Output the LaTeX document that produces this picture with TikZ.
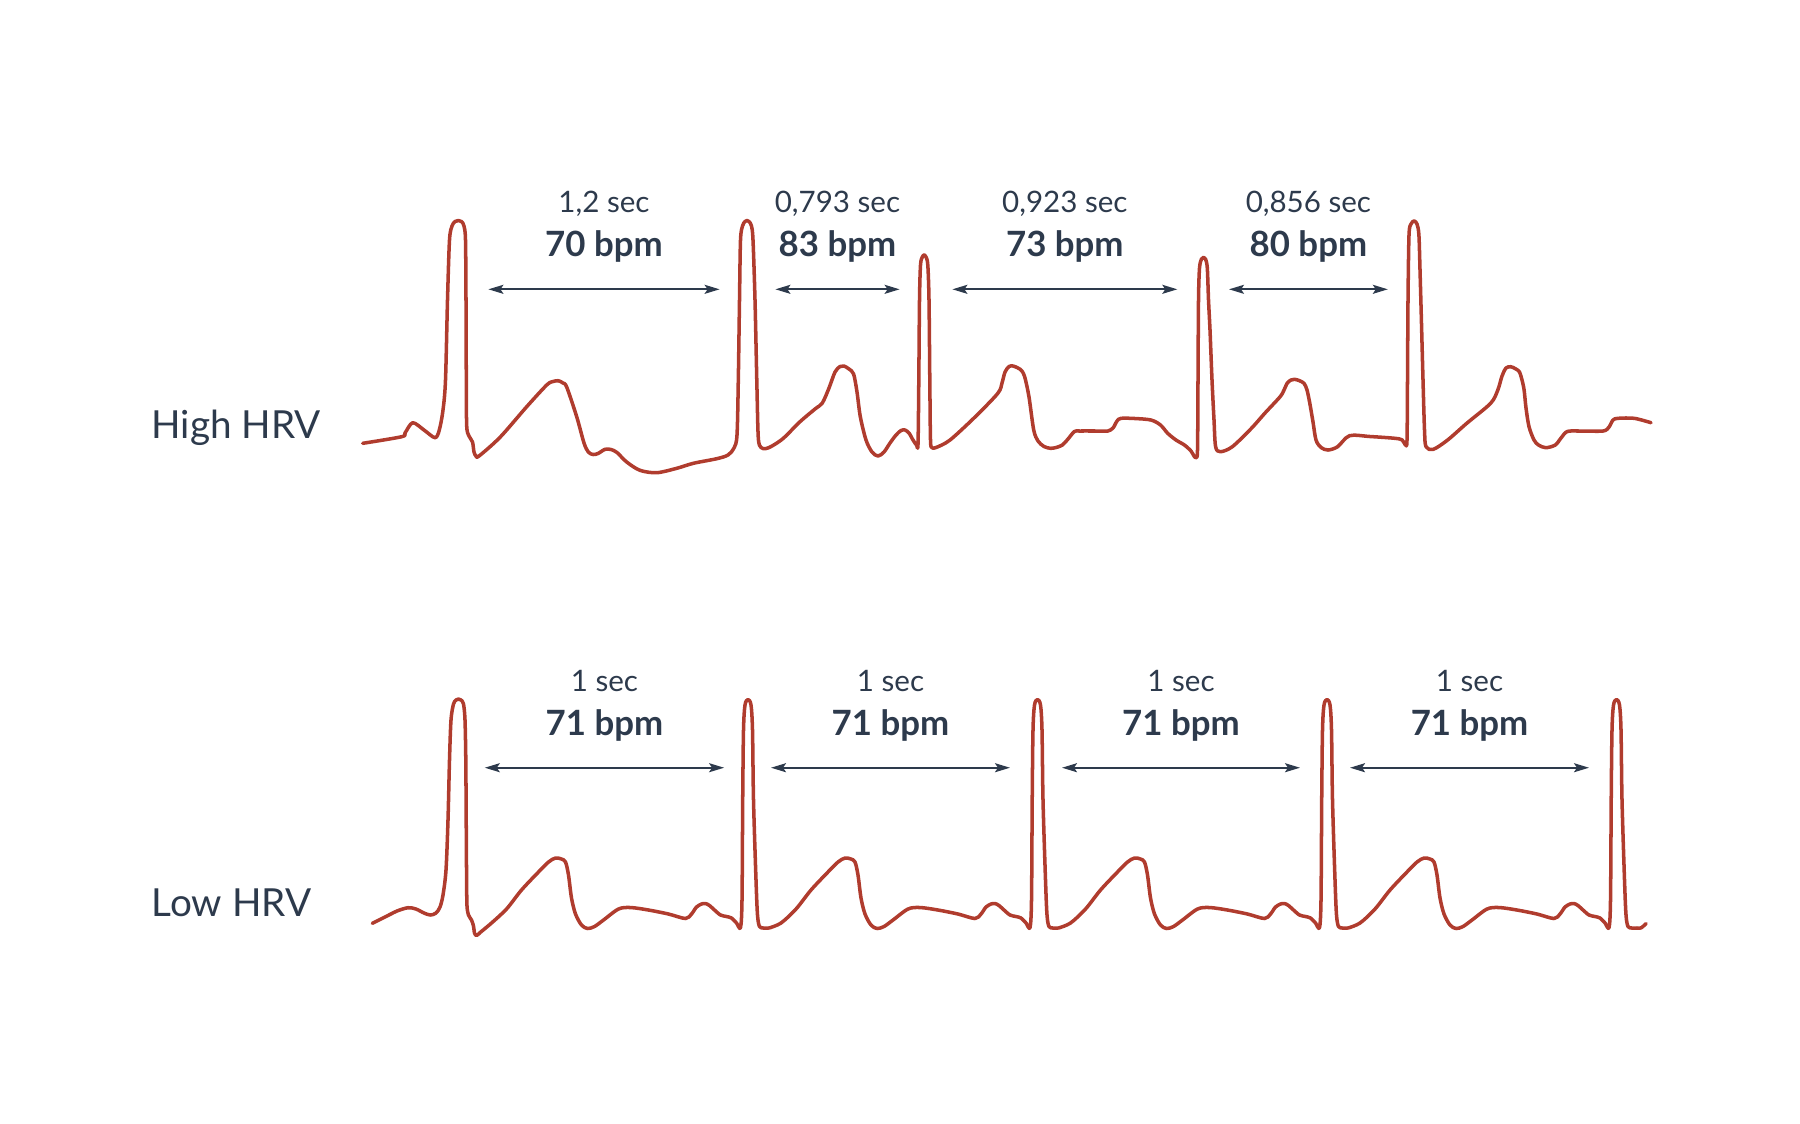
\documentclass[tikz,border=0pt]{standalone}
\usepackage{fontspec}
\setmainfont{Lato}
\usepackage{tikz}
\usetikzlibrary{arrows.meta,positioning,calc}
\definecolor{ink}{RGB}{45,58,76}
\definecolor{ecgred}{RGB}{176,60,46}
\tikzset{
  ecg/.style={draw=ecgred, line width=1pt, line join=round, line cap=round},
  span/.style={{Stealth[length=1.5mm,width=0.9mm,inset=0.3mm]}-{Stealth[length=1.5mm,width=0.9mm,inset=0.3mm]}, draw=ink, line width=0.5pt},
  sec/.style={text=ink, font=\fontsize{8.4}{10}\selectfont, anchor=base, inner sep=0pt},
  bpm/.style={text=ink, font=\fontsize{9.9}{12}\selectfont\bfseries, anchor=base, inner sep=0pt},
  rowlabel/.style={text=ink, font=\fontsize{11}{13}\selectfont, anchor=base west, inner sep=0pt},
}

\begin{document}
\begin{tikzpicture}[x=0.01cm,y=-0.01cm]
  \useasboundingbox (0,0) rectangle (1800,1123);

  % high HRV
  \node[rowlabel] (high) at (151,438.3) {High HRV};
  \draw[ecg] plot[smooth,tension=.5] coordinates {
    (362.7,443.3) (401.7,436.7) (405,433) (412.7,422.7) (424,430) (435,437.7) (439.3,430)
    (443,410) (445.5,380) (447.5,300) (449.5,240) (452,226) (455,221.5) (458.3,220.5)
    (461.5,221.5) (464,226) (465.5,240) (466,300) (466.3,380) (466.7,426) (469,436)
    (472.5,442) (474,452) (476,456) (479,456) (500,437.3) (526.7,406.7) (546.7,385)
    (553,381.5) (558.3,380.7) (563,383) (566.7,387) (576.7,416.7) (584,443) (588.3,452)
    (593,454.5) (598,453.5) (605,449.3) (611,449.5) (617,452.5) (626.7,462) (640,470.3)
    (656.7,472.7) (676.7,468.3) (693.3,463.3) (716.7,458.7) (728,455) (734,448) (737,435)
    (738.3,380) (739.5,300) (740.5,240) (742.5,226) (745,221.5) (747,220.5) (749,221.5)
    (751.5,226) (753,240) (755,300) (757,390) (758.3,438) (761,447.5) (766,448.5)
    (772,446) (783.3,438.3) (800,421.7) (815,409) (822.3,403) (829,388) (835,372)
    (840,366.5) (844,366) (849,369) (853.6,374) (857,392) (860.3,416.7) (866,440)
    (872,452) (878,456) (884,452) (890,443) (896,435) (901,430.5) (905,430) (909,433)
    (913,440) (916.5,445) (918,444) (918.8,380) (919.5,300) (920.5,265) (922.3,257)
    (924.1,255) (926,257) (927.8,265) (929,300) (929.8,380) (930.5,440) (932,447.5)
    (936,447.5) (950,440) (975,417) (997.8,393.3) (1002,383) (1005,372) (1009,366.5)
    (1013,366) (1018,368) (1022,371) (1025,378) (1029,397) (1033.7,430) (1038,441)
    (1044,446.5) (1050.5,448.3) (1056,447.5) (1062.4,445) (1068,439) (1074.4,431.5)
    (1080,431) (1100,431) (1107.9,431) (1113,428) (1117,421) (1121,418.3) (1135,418.5)
    (1151,420) (1160.5,425) (1167.7,433.3) (1176,440) (1184.4,445) (1191,451) (1194,456)
    (1196,457.5) (1197.5,450) (1198,380) (1198.5,300) (1199.5,268) (1201.5,259)
    (1203.6,257.3) (1205.5,259) (1207.3,268) (1208.5,300) (1210,330) (1212,380)
    (1214,420) (1215.6,446.7) (1220.4,451.7) (1232.3,446.7) (1251.4,428.3) (1265,413)
    (1280.1,396.7) (1284,390) (1287.3,383) (1291,380) (1294.5,379.3) (1299,380.5)
    (1304,383.3) (1307,390) (1309.8,403.3) (1313,422) (1316,440) (1321,447.5) (1328,450)
    (1337.6,446.7) (1349.5,435.7) (1370,436.5) (1395,438.3) (1402.2,440) (1405.5,445)
    (1407,440) (1407.5,380) (1408,300) (1409,235) (1411,224) (1414.1,221) (1417,224)
    (1418.9,235) (1420,270) (1421.3,316.7) (1423,380) (1424.5,430) (1426,446.7)
    (1433.3,449.3) (1447.6,440) (1466.7,423.3) (1490.6,403.3) (1497.8,390) (1502,376)
    (1506,368) (1510.7,366.7) (1515,368.5) (1519.3,371.7) (1522,380) (1524.1,390)
    (1526,408) (1529,426.7) (1534,440) (1538.5,445) (1545.7,447.7) (1555.3,445)
    (1561,438) (1567.2,431.5) (1580,431) (1603,431) (1609,427) (1613,420) (1618,418.3)
    (1634.2,418.3) (1651,422.7)};
  \foreach \xa/\xb/\sc/\bp [count=\i] in {488.4/719.6/{1,2 sec}/70, 775.4/899.6/{0,793 sec}/83,
      952.4/1177.3/{0,923 sec}/73, 1229/1387.8/{0,856 sec}/80}{
    \coordinate (ha\i) at (\xa,289.3);
    \coordinate (hb\i) at (\xb,289.3);
    \draw[span] (ha\i) -- (hb\i);
    \node[bpm] (hbpm\i) at ({(\xa+\xb)/2},256.7) {\bp\ bpm};
    \node[sec] (hsec\i) at ({(\xa+\xb)/2},212.7) {\sc};
  }

  % low HRV
  \node[rowlabel] (low) at (151,916.7) {Low HRV};
  \draw[ecg] plot[smooth,tension=.5] coordinates {
    (372.3,923.3) (385,917) (397,911) (408,907.7) (416,909) (424,913) (430.4,915)
    (436,913) (440,907) (443,895) (446,870) (448,820) (449.5,760) (451,720) (453.5,704)
    (456,700) (458.5,699) (461,700) (463.5,704) (465,720) (465.8,760) (466.2,820)
    (466.6,880) (467,906) (468.5,915) (471.5,920) (473.5,926) (474.5,933) (476.5,935.5)
    (479.5,933)};
  \foreach \p/\y in {458.5/933,748/928,1037.5/928,1327/928}
    \draw[ecg,shift={(\p,0)}] plot[smooth,tension=.5] coordinates {
      (21,\y) (33,923) (48,909) (63,890) (79,873) (90,862) (97,858) (103,859) (107,862)
      (110,875) (113,898) (117,914) (123,925) (129,928.5) (136,926.5) (145,920) (160,909)
      (172,907.5) (190,910) (210,914) (227,918.5) (233,914) (238,907) (243,904) (247,903.5)
      (251,905.5) (256,910) (262,915) (268,916.5) (273,918) (278,923) (282,927.5)
      (283.5,900) (284.2,800) (285,730) (286.5,705) (289.5,699.5) (292.5,705) (294,730)
      (295,800) (297.5,880) (299,915) (301,926.5) (305,928) (310,928)};
  \draw[ecg] (1637,928) .. controls (1641,928.5) .. (1646,923.5);
  \foreach \xa/\xb [count=\i] in {484.8/724.1, 771/1010, 1062/1300, 1350/1589}{
    \coordinate (la\i) at (\xa,767.7);
    \coordinate (lb\i) at (\xb,767.7);
    \draw[span] (la\i) -- (lb\i);
    \node[bpm] (lbpm\i) at ({(\xa+\xb)/2},735.7) {71 bpm};
    \node[sec] (lsec\i) at ({(\xa+\xb)/2},691.7) {1 sec};
  }
\end{tikzpicture}
\end{document}
